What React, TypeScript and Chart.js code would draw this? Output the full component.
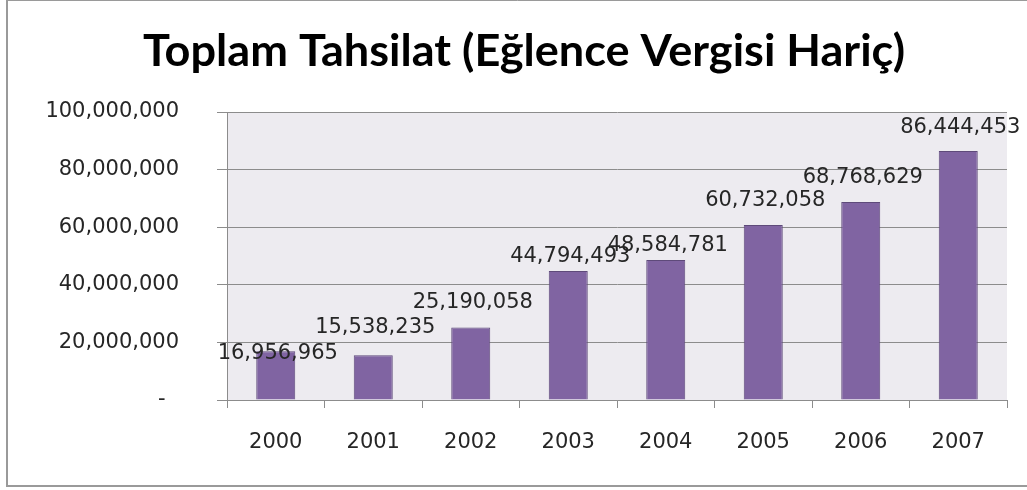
import React, { useEffect, useRef } from 'react';
import { Chart, registerables } from 'chart.js';

Chart.register(...registerables);

const TITLE = 'Toplam Tahsilat (Eğlence Vergisi Hariç)';
const years = ['2000', '2001', '2002', '2003', '2004', '2005', '2006', '2007'];
const totals = [16956965, 15538235, 25190058, 44794493, 48584781, 60732058, 68768629, 86444453];
const yTicks = [0, 20000000, 40000000, 60000000, 80000000, 100000000];

const fmt = (v: number) => Math.round(v).toLocaleString('en-US');

const GRID = '#8C8C8C';
const TEXT = '#262626';
const NUM_FONT = '"DejaVu Sans", sans-serif';

const framePlugin = {
  id: 'frame',
  beforeDraw(chart: any) {
    const { ctx, chartArea } = chart;
    ctx.save();
    ctx.fillStyle = '#ffffff';
    ctx.fillRect(0, 0, chart.width, chart.height);
    ctx.fillStyle = '#EDEBF0';
    ctx.fillRect(chartArea.left, chartArea.top, chartArea.right - chartArea.left, chartArea.bottom - chartArea.top);
    ctx.restore();
  },
  afterDraw(chart: any) {
    const { ctx } = chart;
    ctx.save();
    // outer chart border (right side runs past the canvas)
    ctx.strokeStyle = '#9A9A9A';
    ctx.lineWidth = 1;
    ctx.beginPath();
    ctx.moveTo(chart.width + 5, 0.5);
    ctx.lineTo(6.5, 0.5);
    ctx.stroke();
    ctx.lineWidth = 2;
    ctx.beginPath();
    ctx.moveTo(7, 0);
    ctx.lineTo(7, 486);
    ctx.lineTo(chart.width + 5, 486);
    ctx.stroke();
    // title
    ctx.fillStyle = '#000000';
    ctx.font = 'bold 44px Lato, "Noto Sans", sans-serif';
    ctx.textBaseline = 'alphabetic';
    ctx.textAlign = 'left';
    const w = ctx.measureText(TITLE).width;
    const target = 762;
    const sx = target / w;
    ctx.translate(524 - target / 2, 66);
    ctx.scale(sx, 1);
    ctx.fillText(TITLE, 0, 0);
    ctx.restore();
  },
};

const barLabelPlugin = {
  id: 'barLabels',
  afterDatasetsDraw(chart: any, _args: any, opts: any) {
    const { ctx } = chart;
    const meta = chart.getDatasetMeta(0);
    const nudge: number[] = opts.nudge || [];
    ctx.save();
    ctx.font = `21px ${NUM_FONT}`;
    ctx.fillStyle = TEXT;
    ctx.textAlign = 'center';
    ctx.textBaseline = 'alphabetic';
    meta.data.forEach((bar: any, i: number) => {
      const v = chart.data.datasets[0].data[i] as number;
      ctx.fillText(fmt(v), bar.x + 2, bar.y - 27 + 7.5 + (nudge[i] || 0));
    });
    ctx.restore();
  },
};

export default function App() {
  const ref = useRef<HTMLCanvasElement | null>(null);

  useEffect(() => {
    document.body.style.margin = '0';
    const canvas = ref.current;
    if (!canvas) return;
    const chart = new Chart(canvas, {
      type: 'bar',
      data: {
        labels: years,
        datasets: [
          {
            label: TITLE,
            data: totals,
            backgroundColor: '#8064A2',
            borderColor: '#5E4A7A',
            borderWidth: 1,
            categoryPercentage: 1,
            barPercentage: 0.4,
          },
        ],
      },
      options: {
        responsive: false,
        animation: false,
        devicePixelRatio: 1,
        layout: { padding: { top: 112, right: 20, left: 0, bottom: 0 } },
        plugins: {
          legend: { display: false },
          title: { display: false },
          tooltip: { enabled: false },
          barLabels: { nudge: [27, -3, 0, 11, 10, 0, 1, 1] },
        } as any,
        scales: {
          x: {
            grid: {
              display: true,
              drawOnChartArea: false,
              drawTicks: true,
              tickLength: 8,
              offset: true,
              color: GRID,
              tickColor: GRID,
            },
            border: { display: true, color: GRID, width: 1 },
            ticks: {
              color: TEXT,
              font: { family: NUM_FONT, size: 21 },
              padding: 22,
              maxRotation: 0,
            },
            afterFit: (s: any) => {
              s.height = 90;
            },
          },
          y: {
            min: 0,
            max: 100000000,
            grid: {
              color: GRID,
              tickColor: GRID,
              tickLength: 10,
              drawTicks: true,
            },
            border: { display: true, color: GRID, width: 1 },
            ticks: {
              color: TEXT,
              font: { family: NUM_FONT, size: 21 },
              padding: 38,
              callback: (v: any) => (Number(v) === 0 ? '-  ' : fmt(Number(v))),
            },
            afterBuildTicks: (s: any) => {
              s.ticks = yTicks.map((v) => ({ value: v }));
            },
            afterFit: (s: any) => {
              s.width = 227;
            },
          },
        },
      },
      plugins: [framePlugin, barLabelPlugin],
    });
    return () => chart.destroy();
  }, []);

  return <canvas ref={ref} width={1027} height={490} style={{ display: 'block', width: 1027, height: 490 }} />;
}
